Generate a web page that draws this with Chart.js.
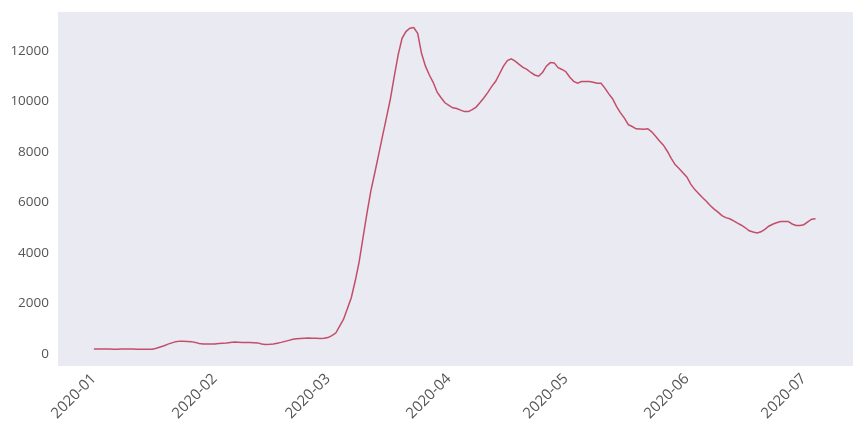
<!DOCTYPE html>
<html lang="en">
<head>
    <meta charset="UTF-8">
    <title>Daily series</title>
    <script src="https://cdn.jsdelivr.net/npm/chart.js"></script>
    <style>
        body {
            margin: 0;
            padding: 0;
            background: #ffffff;
        }

        #chartBox {
            width: 864px;
            height: 432px;
        }
    </style>
</head>
<body>
    <div id="chartBox">
        <canvas id="dailyChart"></canvas>
    </div>

    <script>
        // one value per day, starting at startDate
        const startDate = '2020-01-01';
        const dailyValues = [
            200, 195, 195, 195, 195, 190, 190, 195, 195, 195, 195, 190, 190, 185, 185, 185,
            230, 280, 330, 390, 440, 490, 510, 510, 500, 490, 460, 420, 400, 395, 395, 400,
            420, 430, 440, 460, 480, 470, 460, 455, 455, 450, 440, 400, 380, 385, 400, 430,
            460, 500, 540, 580, 600, 615, 625, 630, 625, 620, 615, 620, 650, 730, 830,
            1100, 1380, 1800, 2240, 2900, 3650, 4620, 5570, 6460, 7170, 7900, 8640, 9360,
            10100, 11000, 11850, 12500, 12770, 12900, 12930, 12700, 11900, 11400, 11050,
            10750, 10370, 10150, 9950, 9850, 9750, 9720, 9660, 9600, 9600, 9680, 9780,
            9960, 10150, 10360, 10600, 10800, 11100, 11400, 11620, 11690, 11600, 11470,
            11350, 11270, 11150, 11050, 11000, 11150, 11400, 11540, 11530, 11340, 11270,
            11180, 10960, 10800, 10730, 10790, 10790, 10790, 10760, 10720, 10720, 10530,
            10300, 10100, 9800, 9550, 9340, 9080, 9010, 8920, 8910, 8900, 8920, 8800,
            8620, 8440, 8270, 8030, 7750, 7500, 7350, 7180, 7010, 6730, 6520, 6360, 6200,
            6050, 5880, 5740, 5620, 5480, 5400, 5355, 5270, 5180, 5100, 5000, 4880, 4830,
            4790, 4840, 4940, 5060, 5140, 5200, 5245, 5250, 5250, 5150, 5090, 5090, 5120,
            5230, 5340, 5360
        ];
        const xTickLabels = ['2020-01', '2020-02', '2020-03', '2020-04', '2020-05', '2020-06', '2020-07'];
        const yTickValues = [0, 2000, 4000, 6000, 8000, 10000, 12000];

        const DAY = 24 * 60 * 60 * 1000;
        function daysFromStart(dateStr) {
            const [y, m, d] = dateStr.split('-').map(Number);
            const [y0, m0, d0] = startDate.split('-').map(Number);
            return (Date.UTC(y, m - 1, d || 1) - Date.UTC(y0, m0 - 1, d0)) / DAY;
        }

        const points = dailyValues.map((v, i) => ({ x: i, y: v }));
        const monthTicks = xTickLabels.map(lbl => daysFromStart(lbl + '-01'));

        const plotBackground = {
            id: 'plotBackground',
            beforeDraw(chart) {
                const { ctx, chartArea } = chart;
                ctx.save();
                ctx.fillStyle = '#eaeaf2';
                ctx.fillRect(chartArea.left, chartArea.top,
                    chartArea.right - chartArea.left, chartArea.bottom - chartArea.top);
                ctx.restore();
            }
        };

        const fontFamily = "'Open Sans', 'DejaVu Sans', sans-serif";

        const ctx = document.getElementById('dailyChart').getContext('2d');
        const dailyChart = new Chart(ctx, {
            type: 'line',
            data: {
                datasets: [{
                    data: points,
                    borderColor: '#c44e69',
                    borderWidth: 1.5,
                    pointRadius: 0,
                    tension: 0,
                    fill: false
                }]
            },
            options: {
                responsive: true,
                maintainAspectRatio: false,
                animation: false,
                layout: {
                    padding: { top: 12, right: 11, left: 0, bottom: 0 }
                },
                plugins: {
                    legend: { display: false },
                    tooltip: { enabled: false }
                },
                scales: {
                    x: {
                        type: 'linear',
                        min: -9.2,
                        max: 194.6,
                        grid: { display: false, drawTicks: false },
                        border: { display: false },
                        afterBuildTicks(scale) {
                            scale.ticks = monthTicks.map(v => ({ value: v }));
                        },
                        afterFit(scale) {
                            scale.height = 66;
                            scale.paddingRight = 0;
                        },
                        ticks: {
                            minRotation: 45,
                            maxRotation: 45,
                            padding: 4,
                            color: '#555555',
                            font: { family: fontFamily, size: 15 },
                            callback: (value) => xTickLabels[monthTicks.indexOf(value)]
                        }
                    },
                    y: {
                        min: -475,
                        max: 13545,
                        grid: { display: false, drawTicks: false },
                        border: { display: false },
                        afterBuildTicks(scale) {
                            scale.ticks = yTickValues.map(v => ({ value: v }));
                        },
                        afterFit(scale) {
                            scale.width = 58;
                            // label overhang should not push the plot area down
                            scale.paddingTop = 0;
                            scale.paddingBottom = 0;
                        },
                        ticks: {
                            padding: 9,
                            color: '#555555',
                            font: { family: fontFamily, size: 13.5 },
                            callback: (value) => String(value)
                        }
                    }
                }
            },
            plugins: [plotBackground]
        });
    </script>
</body>
</html>
